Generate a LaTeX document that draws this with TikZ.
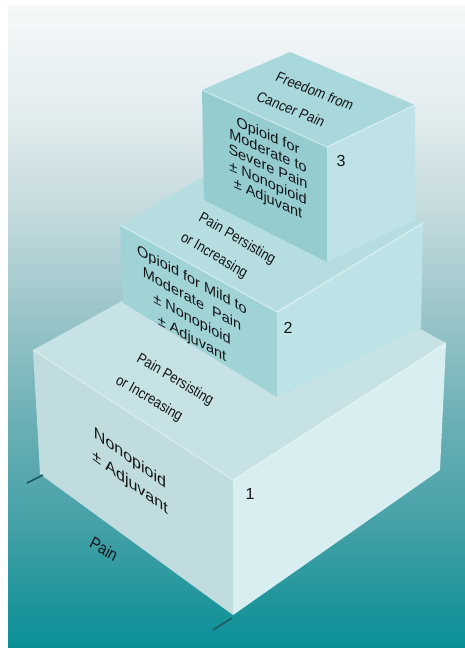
\documentclass[tikz,border=0pt]{standalone}
\usepackage{fontspec}
\setmainfont{Liberation Sans}
\begin{document}
\begin{tikzpicture}[x=1pt,y=-1pt]
% palette
\definecolor{bgA}{HTML}{F5F8F9}
\definecolor{bgB}{HTML}{E3EDEF}
\definecolor{bgC}{HTML}{C4DADD}
\definecolor{bgD}{HTML}{9CC6CA}
\definecolor{bgE}{HTML}{6BB0B5}
\definecolor{bgF}{HTML}{42A0A6}
\definecolor{bgG}{HTML}{0A8F97}
\definecolor{oneTop}{HTML}{C6E2E4}
\definecolor{oneLeft}{HTML}{C0DCDF}
\definecolor{oneRight}{HTML}{D9EEF1}
\definecolor{twoTop}{HTML}{B6DEE1}
\definecolor{twoLeft}{HTML}{A0D3D6}
\definecolor{twoRight}{HTML}{BEE3E6}
\definecolor{threeTop}{HTML}{A8D8DB}
\definecolor{threeLeft}{HTML}{94CCD0}
\definecolor{threeRight}{HTML}{BEE2E5}
\definecolor{tickcol}{HTML}{1D5A60}
\definecolor{ink}{HTML}{151515}
\tikzset{
  facetext/.style={text=ink, inner sep=0pt, align=center, transform shape},
  leftOne/.style={facetext, yslant=-0.72, font=\fontsize{16}{24}\selectfont},
  leftTwo/.style={facetext, yslant=-0.55, font=\fontsize{14.5}{19.5}\selectfont},
  leftThree/.style={facetext, yslant=-0.45, font=\fontsize{14.5}{15.8}\selectfont},
  topLow/.style={facetext, cm={0.857,-0.515,0.55,1.0,(0,0)}, font=\fontsize{13}{16}\selectfont},
  topHigh/.style={facetext, cm={0.93,-0.37,0.5,1.0,(0,0)}, font=\fontsize{13}{16}\selectfont},
  stepnum/.style={text=ink, inner sep=0pt, font=\fontsize{16}{18}\selectfont},
  tickline/.style={draw=tickcol, line width=1.6pt},
  bevel/.style={draw=white, draw opacity=0.45, line width=1.2pt, line join=round}
}
\useasboundingbox (0,0) rectangle (465,648);
\fill[white] (0,0) rectangle (465,648);
% background gradient in bands
\fill[top color=bgA, bottom color=bgB] (8,5) rectangle (465,110.5);
\fill[top color=bgB, bottom color=bgC] (8,110) rectangle (465,210.5);
\fill[top color=bgC, bottom color=bgD] (8,210) rectangle (465,310.5);
\fill[top color=bgD, bottom color=bgE] (8,310) rectangle (465,420.5);
\fill[top color=bgE, bottom color=bgF] (8,420) rectangle (465,530.5);
\fill[top color=bgF, bottom color=bgG] (8,530) rectangle (465,648);

% step 1 (base block)
\coordinate (a1) at (33,350);  \coordinate (f1) at (233,480);
\coordinate (r1) at (446,343); \coordinate (b1) at (246,233);
\coordinate (lb1) at (40,474); \coordinate (fb1) at (233,615);
\coordinate (rb1) at (440,470);
\fill[oneTop] (a1) -- (f1) -- (r1) -- (b1) -- cycle;
\fill[oneLeft] (a1) -- (f1) -- (fb1) -- (lb1) -- cycle;
\fill[oneRight] (f1) -- (r1) -- (rb1) -- (fb1) -- cycle;
\draw[bevel] (a1) -- (f1) -- (r1);

% step 2
\coordinate (a2) at (120,225); \coordinate (f2) at (277,312);
\coordinate (r2) at (423,223); \coordinate (b2) at (266,140);
\coordinate (lb2) at (123,303); \coordinate (fb2) at (277,397);
\coordinate (rb2) at (421,328);
\fill[twoTop] (a2) -- (f2) -- (r2) -- (b2) -- cycle;
\fill[twoLeft] (a2) -- (f2) -- (fb2) -- (lb2) -- cycle;
\fill[twoRight] (f2) -- (r2) -- (rb2) -- (fb2) -- cycle;
\draw[bevel] (a2) -- (f2) -- (r2);

% step 3 (top block)
\coordinate (a3) at (202,90);  \coordinate (f3) at (327,147);
\coordinate (r3) at (415,105); \coordinate (b3) at (290,52);
\coordinate (lb3) at (204,200); \coordinate (fb3) at (327,262);
\coordinate (rb3) at (415,220);
\fill[threeTop] (a3) -- (f3) -- (r3) -- (b3) -- cycle;
\fill[threeLeft] (a3) -- (f3) -- (fb3) -- (lb3) -- cycle;
\fill[threeRight] (f3) -- (r3) -- (rb3) -- (fb3) -- cycle;
\draw[bevel] (a3) -- (f3) -- (r3);

% labels on the front faces
\node[leftOne] (txtOne) at (130,471) {Nonopioid\\± Adjuvant};
\node[leftTwo] (txtTwo) at (192,310) {Opioid for Mild to\\Moderate\ \ Pain\\± Nonopioid\\± Adjuvant};
\node[leftThree] (txtThree) at (268,168) {Opioid for\\Moderate to\\Severe Pain\\± Nonopioid\\± Adjuvant};

% labels lying on the top faces
\node[topLow] (persistOneA) at (175,380) {Pain Persisting};
\node[topLow] (persistOneB) at (149,399) {or Increasing};
\node[topLow] (persistTwoA) at (237,239) {Pain Persisting};
\node[topLow] (persistTwoB) at (214,256) {or Increasing};
\node[topHigh] (freeA) at (315,91) {Freedom from};
\node[topHigh] (freeB) at (291,109) {Cancer Pain};

% step numbers
\node[stepnum] (numOne) at (250,494) {1};
\node[stepnum] (numTwo) at (288,328) {2};
\node[stepnum] (numThree) at (341,161) {3};

% pain axis with end ticks
\coordinate (tA1) at (27,483); \coordinate (tA2) at (43,475);
\coordinate (tB1) at (213,630); \coordinate (tB2) at (232,618);
\draw[tickline] (tA1) -- (tA2);
\draw[tickline] (tB1) -- (tB2);
\node[facetext, cm={0.846,-0.533,0.5,1.0,(0,0)}, font=\fontsize{15}{17}\selectfont] (painAxis) at (104,549) {Pain};
\end{tikzpicture}
\end{document}
